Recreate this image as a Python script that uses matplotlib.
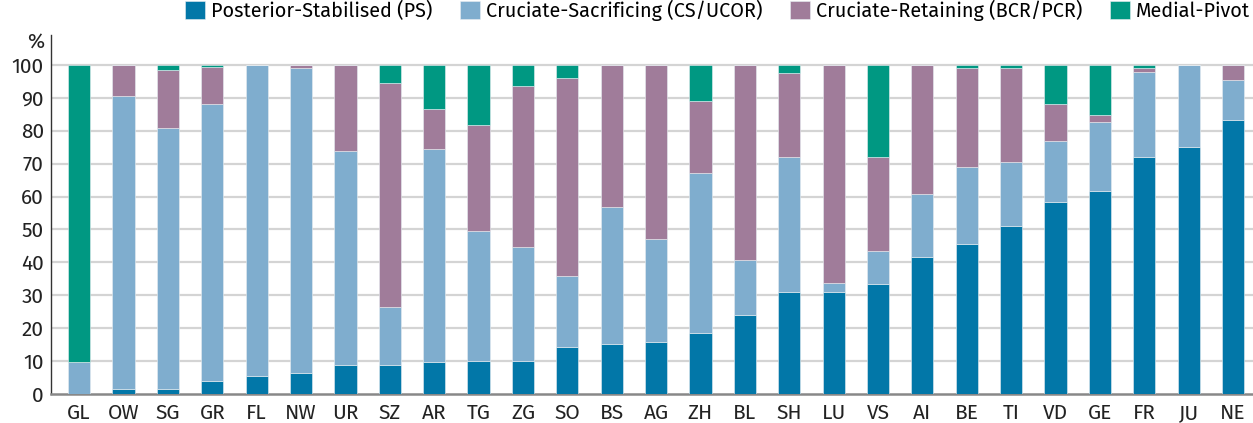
import numpy as np
import matplotlib.pyplot as plt

plt.rcParams['font.family'] = ['Fira Sans', 'Noto Sans', 'DejaVu Sans']

cantons = ['GL', 'OW', 'SG', 'GR', 'FL', 'NW', 'UR', 'SZ', 'AR', 'TG', 'ZG', 'SO', 'BS', 'AG',
           'ZH', 'BL', 'SH', 'LU', 'VS', 'AI', 'BE', 'TI', 'VD', 'GE', 'FR', 'JU', 'NE']

ps = [0, 1.4, 1.4, 3.8, 5.5, 6.3, 8.7, 8.7, 9.6, 10.1, 10.1, 14.2, 15.1, 15.9,
      18.4, 23.9, 31.1, 31.1, 33.5, 41.5, 45.5, 51.0, 58.3, 61.6, 72.0, 75.1, 83.2]
cs = [9.6, 89.0, 79.4, 84.2, 94.5, 92.9, 65.0, 17.7, 64.8, 39.5, 34.6, 21.7, 41.6, 31.3,
      48.9, 16.9, 40.9, 2.5, 9.8, 19.4, 23.4, 19.4, 18.5, 20.9, 25.7, 24.9, 12.1]
cr = [0, 9.6, 17.6, 11.3, 0, 0.8, 26.3, 68.1, 12.1, 32.0, 48.9, 60.1, 43.3, 52.8,
      21.6, 59.2, 25.6, 66.4, 28.7, 39.1, 30.3, 28.8, 11.2, 2.3, 1.5, 0, 4.7]
mp = [90.4, 0, 1.6, 0.7, 0, 0, 0, 5.5, 13.5, 18.4, 6.4, 4.0, 0, 0,
      11.1, 0, 2.4, 0, 28.0, 0, 0.8, 0.8, 12.0, 15.2, 0.8, 0, 0]

labels = ['Posterior-Stabilised (PS)', 'Cruciate-Sacrificing (CS/UCOR)',
          'Cruciate-Retaining (BCR/PCR)', 'Medial-Pivot']
colors = ['#0277A8', '#7FADCE', '#A07C9A', '#009882']

fig = plt.figure(figsize=(12.53, 4.23), dpi=100)
ax = fig.add_axes([0.0405, 0.0686, 0.9595, 0.848])

x = np.arange(len(cantons))
bottom = np.zeros(len(cantons))
for vals, lab, col in zip([ps, cs, cr, mp], labels, colors):
    ax.bar(x, vals, 0.5, bottom=bottom, color=col, label=lab,
           edgecolor='#e8eef2', linewidth=0.4, zorder=3)
    bottom += np.array(vals)

ax.set_xlim(-0.64, 26.45)
ax.set_ylim(0, 109)
ax.set_yticks(range(0, 101, 10))
ax.set_xticks(x)
ax.set_xticklabels(cantons)
ax.tick_params(axis='both', length=0, labelsize=15, colors='#222222')
ax.tick_params(axis='x', pad=7)
ax.tick_params(axis='y', pad=5)
for t in range(10, 101, 10):
    ax.axhline(t, color='#d4d4d4', linewidth=1.6, zorder=1)

for s in ['top', 'right']:
    ax.spines[s].set_visible(False)
ax.spines['left'].set_color('#333333')
ax.spines['left'].set_linewidth(1.0)
ax.spines['bottom'].set_color('#888888')
ax.spines['bottom'].set_linewidth(1.8)

fig.text(0.0285, 0.898, '%', fontsize=15, color='#222222', ha='center', va='center')

ax.legend(loc='center left', bbox_to_anchor=(0.105, 1.07), ncol=4, frameon=False,
          fontsize=14.3, handlelength=1.0, handleheight=1.0, handletextpad=0.3,
          columnspacing=1.4, borderaxespad=0)

fig.savefig('out.png', dpi=100)
